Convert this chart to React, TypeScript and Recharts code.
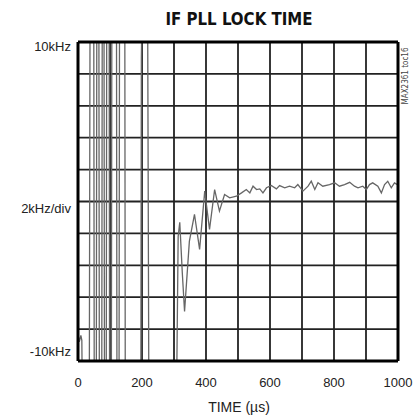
import React from 'react';
import { LineChart, Line, XAxis, YAxis, CartesianGrid, ReferenceLine } from 'recharts';

const chartTitle = 'IF PLL LOCK TIME';
const xAxisLabel = 'TIME (µs)';
const sideNote = 'MAX2361 toc16';
const xTicks = [0, 100, 200, 300, 400, 500, 600, 700, 800, 900, 1000];
const xLabelTicks = [0, 200, 400, 600, 800, 1000];
const yTicks = [-10, -8, -6, -4, -2, 0, 2, 4, 6, 8, 10];
const yTickLabels: Record<number, string> = { 10: '10kHz', 0: '2kHz/div', [-10]: '-10kHz' };

// time in µs
const timeUs = [
  0, 4, 9, 12, 15,
  35, 38, 49, 51, 57, 59, 65, 67, 74, 76, 81, 83, 88, 90, 97, 99, 104, 106,
  120, 122, 128, 130, 146, 148, 196, 198, 203, 217, 222,
  306, 313, 318, 326, 333, 348, 364, 380, 396, 411, 427, 442, 458, 474,
  495, 511, 526, 537, 547, 558, 568, 578, 589, 604, 620, 630, 646, 661, 677, 687,
  703, 719, 729, 740, 750, 765, 786, 802, 817, 833, 849, 864, 875, 890, 901, 911,
  921, 937, 948, 958, 968, 979, 989, 998,
];
// frequency error in kHz
const freqKHz = [
  -8.3, -8.8, -8.4, -8.7, -16,
  -16, 16, 16, -16, -16, 16, 16, -16, -16, 16, 16, -16, -16, 16, 16, -16, -16, 16,
  16, -16, -16, 16, 16, -16, -16, 9, 16, 16, -16,
  -16, -2.2, -1.3, -4.5, -6.9, -2.5, -0.8, -3.0, 0.65, -1.75, 0.75, -0.6, 0.44, 0.23,
  0.33, 0.54, 0.75, 0.54, 0.96, 0.75, 0.79, 0.54, 0.86, 1.0, 0.79, 1.0, 0.86, 0.96, 0.86, 1.06,
  0.65, 0.96, 1.27, 0.75, 1.17, 0.96, 1.06, 1.17, 0.96, 1.06, 1.2, 0.96, 0.86, 0.96, 0.75, 1.06,
  1.17, 0.96, 0.54, 1.06, 1.27, 0.86, 1.17, 1.06,
];

const data = timeUs.map((t, i) => ({ t, f: freqKHz[i] }));

const FONT = '"Liberation Sans", Arial, sans-serif';

const YTick = (props: any) => {
  const { x, y, payload } = props;
  const label = yTickLabels[payload.value];
  if (!label) return null;
  let dy = 5;
  if (payload.value === 10) dy = 9;
  if (payload.value === -10) dy = -5;
  if (payload.value === 0) dy = 11;
  return (
    <text x={x + 1} y={y + dy} textAnchor="end" fontSize={13} fill="#222" fontFamily={FONT}>
      {label}
    </text>
  );
};

const XTick = (props: any) => {
  const { x, y, payload } = props;
  if (!xLabelTicks.includes(payload.value)) return null;
  return (
    <text x={x} y={y + 18} textAnchor="middle" fontSize={13} fill="#222" fontFamily={FONT}>
      {payload.value}
    </text>
  );
};

export default function App() {
  return (
    <div style={{ position: 'absolute', left: 0, top: 0, width: 414, height: 419, background: '#fff' }}>
      <LineChart
        width={414}
        height={419}
        data={data}
        margin={{ top: 42, right: 16, bottom: 0, left: 0 }}
      >
        <CartesianGrid stroke="#222" strokeWidth={1.8} vertical horizontal />
        <XAxis
          dataKey="t"
          type="number"
          domain={[0, 1000]}
          ticks={xTicks}
          axisLine={false}
          tickLine={false}
          height={58}
          tick={<XTick />}
          interval={0}
        />
        <YAxis
          type="number"
          domain={[-10, 10]}
          ticks={yTicks}
          allowDataOverflow
          axisLine={false}
          tickLine={false}
          width={78}
          tick={<YTick />}
          interval={0}
        />
        <Line
          type="linear"
          dataKey="f"
          stroke="#666"
          strokeWidth={1.3}
          dot={false}
          isAnimationActive={false}
        />
        <ReferenceLine x={0} stroke="#000" strokeWidth={3} />
        <ReferenceLine x={1000} stroke="#000" strokeWidth={3} />
        <ReferenceLine y={10} stroke="#000" strokeWidth={3} />
        <ReferenceLine y={-10} stroke="#000" strokeWidth={3} />
      </LineChart>
      <svg width={414} height={419} style={{ position: 'absolute', left: 0, top: 0, pointerEvents: 'none' }}>
        <text
          x={239}
          y={25}
          textAnchor="middle"
          fontSize={18}
          fontWeight="bold"
          fill="#111"
          fontFamily='"Liberation Sans Narrow", "DejaVu Sans Condensed", sans-serif'
          textLength={147}
          lengthAdjust="spacingAndGlyphs"
        >
          {chartTitle}
        </text>
        <text x={239} y={412} textAnchor="middle" fontSize={14} fill="#222" fontFamily={FONT}>
          {xAxisLabel}
        </text>
        <text
          x={0}
          y={0}
          transform="translate(408, 76) rotate(-90)"
          textAnchor="middle"
          fontSize={8}
          fill="#444"
          fontFamily='"Liberation Sans Narrow", "DejaVu Sans Condensed", sans-serif'
        >
          {sideNote}
        </text>
      </svg>
    </div>
  );
}
